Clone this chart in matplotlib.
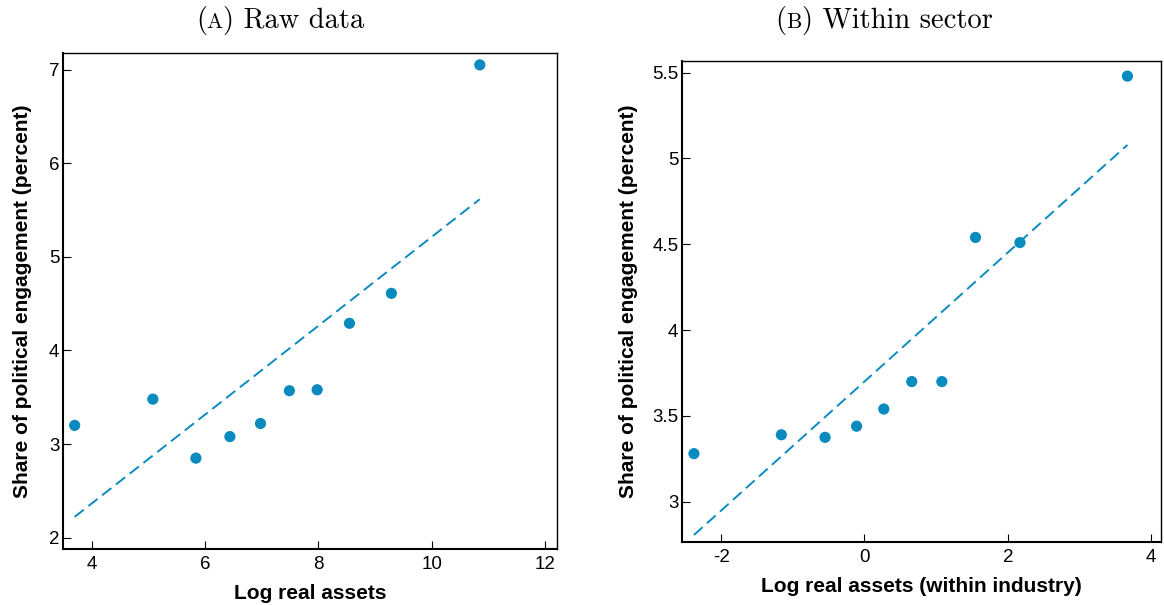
"""Binned scatter of political engagement share against firm size (raw and within sector)."""

import matplotlib

matplotlib.use("Agg")
import matplotlib.pyplot as plt
import numpy as np
from matplotlib.offsetbox import AnchoredOffsetbox, HPacker, TextArea

plt.rcParams["font.family"] = ["Liberation Sans", "DejaVu Sans"]
plt.rcParams["axes.unicode_minus"] = False

BLUE = "#0a8bc0"

# panel A: raw data (bin means)
raw_assets = [3.70, 5.08, 5.84, 6.44, 6.98, 7.49, 7.98, 8.55, 9.29, 10.85]
raw_share = [3.20, 3.48, 2.85, 3.08, 3.22, 3.57, 3.58, 4.29, 4.61, 7.05]

# panel B: within sector (bin means)
sec_assets = [-2.38, -1.16, -0.55, -0.11, 0.27, 0.66, 1.08, 1.55, 2.17, 3.67]
sec_share = [3.28, 3.39, 3.375, 3.44, 3.54, 3.70, 3.70, 4.54, 4.51, 5.48]

raw_xticks = [4, 6, 8, 10, 12]
raw_yticks = [2, 3, 4, 5, 6, 7]
sec_xticks = [-2, 0, 2, 4]
sec_yticks = [3, 3.5, 4, 4.5, 5, 5.5]
sec_yticklabels = ["3", "3.5", "4", "4.5", "5", "5.5"]


def style_axes(ax):
    ax.tick_params(direction="in", length=5.5, width=0.8, labelsize=13.5, top=False, right=False)
    ax.tick_params(axis="y", pad=2.5)
    ax.tick_params(axis="x", pad=5)
    for side in ("left", "bottom"):
        ax.spines[side].set_linewidth(1.5)
    for side in ("top", "right"):
        ax.spines[side].set_linewidth(1.0)


def draw_panel(ax, x, y):
    x = np.asarray(x)
    y = np.asarray(y)
    slope, icept = np.polyfit(x, y, 1)
    xs = np.array([x.min(), x.max()])
    ax.plot(xs, icept + slope * xs, color=BLUE, lw=1.4, dashes=(6, 3))
    ax.scatter(x, y, s=65, color=BLUE, edgecolors="none", zorder=3)
    style_axes(ax)


def add_title(fig, letter, rest, xpos, ypos):
    big = dict(family="cmr10", size=20.5, color="black")
    small = dict(family="cmr10", size=15.5, color="black")
    pack = HPacker(
        children=[TextArea("(", textprops=big), TextArea(letter, textprops=small),
                  TextArea(")" + " " + rest, textprops=big)],
        align="baseline", pad=0, sep=0)
    box = AnchoredOffsetbox(loc="center", child=pack, pad=0, borderpad=0, frameon=False,
                            bbox_to_anchor=(xpos, ypos), bbox_transform=fig.transFigure)
    fig.add_artist(box)


def main():
    fig = plt.figure(figsize=(11.64, 6.05), dpi=100)
    ax1 = fig.add_axes([0.0539, 0.0920, 0.4245, 0.8209])
    ax2 = fig.add_axes([0.5857, 0.1041, 0.4118, 0.7956])

    draw_panel(ax1, raw_assets, raw_share)
    ax1.set_xlim(3.49, 12.21)
    ax1.set_ylim(1.876, 7.18)
    ax1.set_xticks(raw_xticks)
    ax1.set_yticks(raw_yticks)
    ax1.set_xlabel("Log real assets", fontsize=15, fontweight="bold", labelpad=8)
    ax1.set_ylabel("Share of political engagement (percent)", fontsize=15,
                   fontweight="bold", labelpad=12)

    draw_panel(ax2, sec_assets, sec_share)
    ax2.set_xlim(-2.55, 4.14)
    ax2.set_ylim(2.765, 5.57)
    ax2.set_xticks(sec_xticks)
    ax2.set_yticks(sec_yticks)
    ax2.set_yticklabels(sec_yticklabels)
    ax2.set_xlabel("Log real assets (within industry)", fontsize=15, fontweight="bold", labelpad=8)
    ax2.set_ylabel("Share of political engagement (percent)", fontsize=15,
                   fontweight="bold", labelpad=10)

    add_title(fig, "A", "Raw data", 0.2405, 0.966)
    add_title(fig, "B", "Within sector", 0.7595, 0.966)

    fig.savefig("out.png", dpi=100)
    plt.close(fig)


if __name__ == "__main__":
    main()
